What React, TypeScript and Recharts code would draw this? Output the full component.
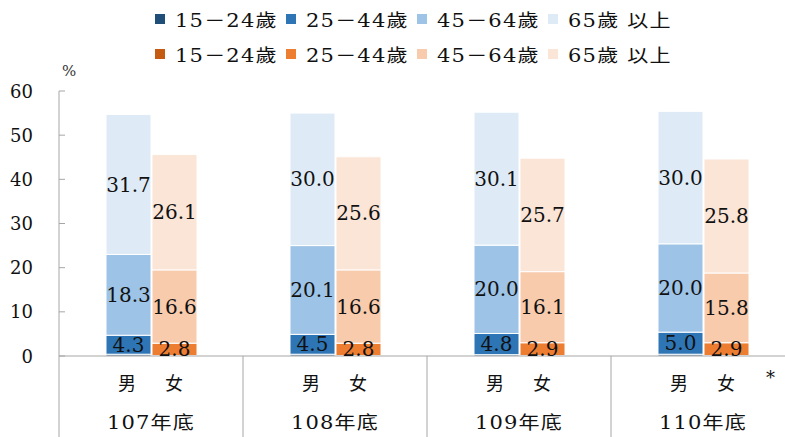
import { BarChart, Bar, XAxis, YAxis, LabelList } from 'recharts';

const years = ['107年底', '108年底', '109年底', '110年底'];
const ageGroups = ['15－24歲', '25－44歲', '45－64歲', '65歲 以上'];

// male (blue) by age group
const male15to24 = [0.4, 0.4, 0.3, 0.4];
const male25to44 = [4.3, 4.5, 4.8, 5.0];
const male45to64 = [18.3, 20.1, 20.0, 20.0];
const male65plus = [31.7, 30.0, 30.1, 30.0];

// female (orange) by age group
const female15to24 = [0.1, 0.1, 0.1, 0.1];
const female25to44 = [2.8, 2.8, 2.9, 2.9];
const female45to64 = [16.6, 16.6, 16.1, 15.8];
const female65plus = [26.1, 25.6, 25.7, 25.8];

const yTicks = [0, 10, 20, 30, 40, 50, 60];

const blues = ['#1F4E79', '#2E75B6', '#9DC3E6', '#DEEBF7'];
const oranges = ['#C55A11', '#ED7D31', '#F8CBAD', '#FBE5D6'];

const data = years.map((year, i) => ({
  year,
  m1: male15to24[i],
  m2: male25to44[i],
  m3: male45to64[i],
  m4: male65plus[i],
  f1: female15to24[i],
  f2: female25to44[i],
  f3: female45to64[i],
  f4: female65plus[i],
}));

const W = 795;
const H = 437;
const LEFT = 59;
const BAND = (W - LEFT) / years.length;
const AXIS_GRAY = '#a6a6a6';
const SERIF = '"DejaVu Serif", "Noto Sans CJK TC", serif';
const STRETCH = 1.17; // source image is slightly widened

const YTick = ({ x, y, payload }: any) => (
  <g>
    <line x1={x} x2={x + 6} y1={y} y2={y} stroke={AXIS_GRAY} />
    <text x={x - 26} y={y} textAnchor="end" dominantBaseline="central" fontSize={18} fontFamily={SERIF} fill="#111">
      {payload.value}
    </text>
  </g>
);

const XTick = ({ x, y, payload }: any) => (
  <g fontFamily={SERIF} fill="#111">
    <line x1={x - BAND / 2} x2={x - BAND / 2} y1={y} y2={H} stroke={AXIS_GRAY} />
    <text x={x - 24} y={y + 27} textAnchor="middle" dominantBaseline="central" fontSize={18}>男</text>
    <text x={x + 23} y={y + 27} textAnchor="middle" dominantBaseline="central" fontSize={18}>女</text>
    <text
      transform={`translate(${x},${y + 67}) scale(${STRETCH},1)`}
      textAnchor="middle"
      dominantBaseline="central"
      fontSize={18}
      letterSpacing={1}
    >
      {payload.value}
    </text>
  </g>
);

const labelStyle = { fontSize: 20, fontFamily: SERIF, fill: '#111' };

function Legend() {
  const rows = [blues, oranges];
  return (
    <div style={{ position: 'absolute', left: 155, top: 1, fontFamily: SERIF, fontSize: 18, color: '#111' }}>
      {rows.map((colors, r) => (
        <div key={r} style={{ display: 'flex', height: 35, alignItems: 'center' }}>
          {ageGroups.map((g, i) => (
            <div key={g} style={{ display: 'flex', alignItems: 'center', width: 131 }}>
              <span style={{ width: 10, height: 10, background: colors[i], marginRight: 10, flex: 'none' }} />
              <span
                style={{
                  display: 'inline-block',
                  letterSpacing: 1,
                  whiteSpace: 'nowrap',
                  transform: `scaleX(${STRETCH})`,
                  transformOrigin: 'left center',
                }}
              >
                {g}
              </span>
            </div>
          ))}
        </div>
      ))}
    </div>
  );
}

export default function App() {
  const maleKeys = ['m1', 'm2', 'm3', 'm4'];
  const femaleKeys = ['f1', 'f2', 'f3', 'f4'];
  return (
    <div style={{ position: 'absolute', left: 0, top: 0, width: 785, height: H, overflow: 'hidden', background: '#fff' }}>
      <Legend />
      <div style={{ position: 'absolute', left: 62, top: 62, fontFamily: SERIF, fontSize: 15, color: '#333' }}>%</div>
      <div style={{ position: 'absolute', left: 766, top: 367, fontFamily: SERIF, fontSize: 18, color: '#111' }}>*</div>
      <BarChart
        width={W}
        height={H}
        data={data}
        margin={{ top: 91, right: 0, bottom: 0, left: 0 }}
        barSize={45}
        barGap={1}
      >
        <YAxis
          domain={[0, 60]}
          ticks={yTicks}
          width={LEFT}
          tickSize={0}
          tickMargin={0}
          tickLine={false}
          axisLine={{ stroke: AXIS_GRAY }}
          tick={<YTick />}
          interval={0}
        />
        <XAxis
          dataKey="year"
          height={H - 356}
          tickSize={0}
          tickMargin={0}
          tickLine={false}
          axisLine={{ stroke: AXIS_GRAY }}
          tick={<XTick />}
          interval={0}
        />
        {maleKeys.map((k, i) => (
          <Bar key={k} dataKey={k} stackId="m" fill={blues[i]} stroke="#fff" strokeWidth={1} isAnimationActive={false}>
            {i > 0 && <LabelList dataKey={k} position="center" style={labelStyle} formatter={(v: any) => Number(v).toFixed(1)} />}
          </Bar>
        ))}
        {femaleKeys.map((k, i) => (
          <Bar key={k} dataKey={k} stackId="f" fill={oranges[i]} stroke="#fff" strokeWidth={1} isAnimationActive={false}>
            {i > 0 && <LabelList dataKey={k} position="center" style={labelStyle} formatter={(v: any) => Number(v).toFixed(1)} />}
          </Bar>
        ))}
      </BarChart>
    </div>
  );
}
